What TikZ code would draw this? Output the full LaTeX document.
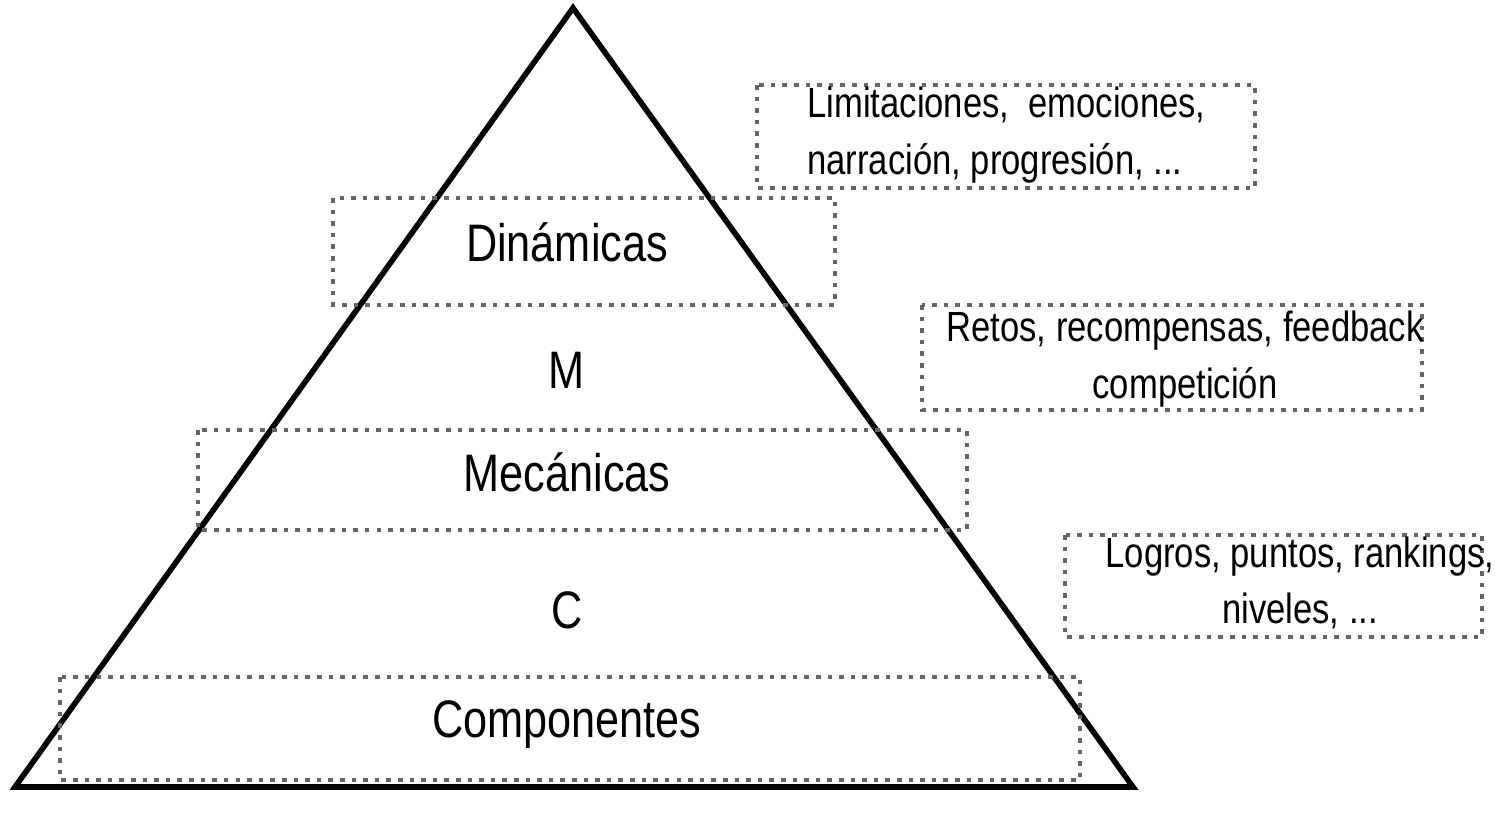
\documentclass[tikz,border=0pt]{standalone}
\usepackage{fontspec}
\setmainfont[FakeStretch=0.82]{Liberation Sans}
\begin{document}
\begin{tikzpicture}[x=0.01cm,y=-0.01cm,
  dbox/.style={draw=black!60,line width=1.3pt,dash pattern=on 1.3pt off 2pt},
  big/.style={font=\fontsize{15}{18}\selectfont},
  small/.style={font=\fontsize{12}{16}\selectfont,align=center}]
\useasboundingbox (0,0) rectangle (1500,819);
\draw[line width=1.6pt] (573,8) coordinate (apex) -- (15,787) coordinate (bl) -- (1133,787) coordinate (br) -- cycle;
\draw[dbox] (333,198) rectangle (835,305);
\draw[dbox] (198,430) rectangle (967,530);
\draw[dbox] (60,677) rectangle (1080,780);
\draw[dbox] (757,85) rectangle (1255,188);
\draw[dbox] (922,305) rectangle (1422,410);
\draw[dbox] (1065,535) rectangle (1482,637);
\node[big] (din) at (567,242) {Dinámicas};
\node[big] (m) at (567,370) {M};
\node[big] (mec) at (567,472) {Mecánicas};
\node[big] (c) at (567,610) {C};
\node[big] (comp) at (567,725) {Componentes};
\node[small,align=left,anchor=west] (lim) at (795,135) {Limitaciones,\ \ emociones,\\narración, progresión, ...};
\node[small] (ret) at (1185,359) {Retos, recompensas, feedback\\competición};
\node[small] (log) at (1300,583) {Logros, puntos, rankings,\\niveles, ...};
\end{tikzpicture}
\end{document}
